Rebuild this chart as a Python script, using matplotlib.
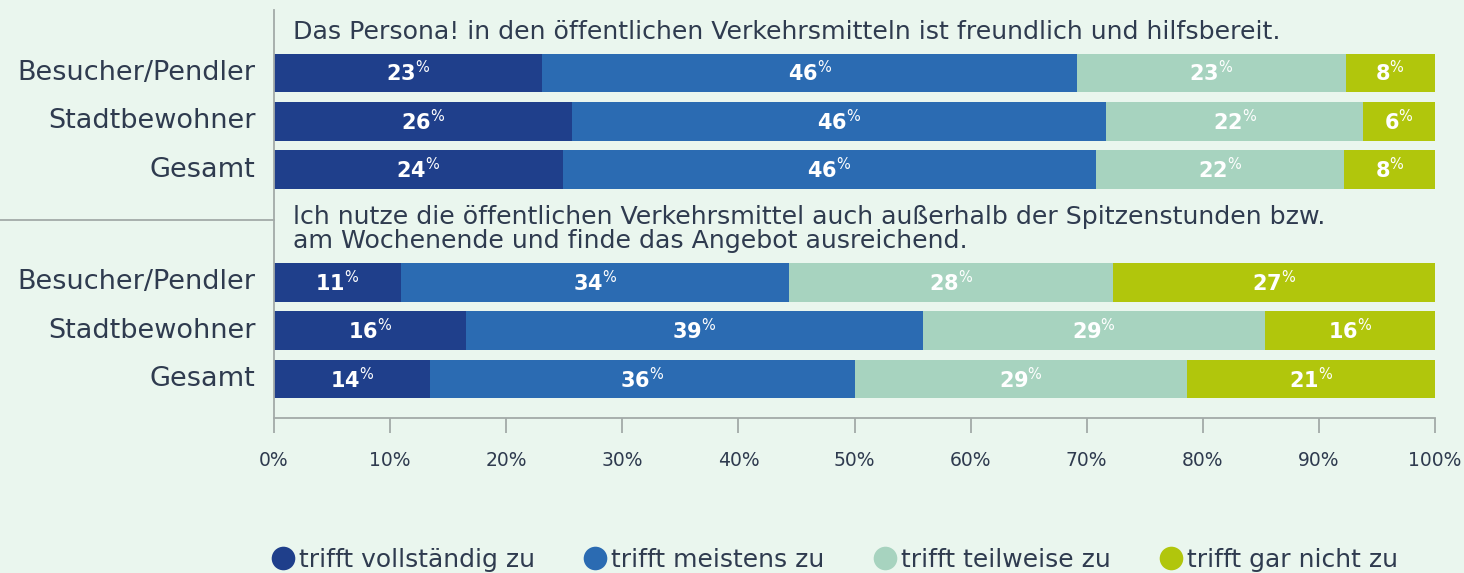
import matplotlib
matplotlib.use("Agg")
import matplotlib.pyplot as plt
from matplotlib.lines import Line2D
import numpy as np

# ---- data ----
categories = ["Besucher/Pendler", "Stadtbewohner", "Gesamt"]
series_names = ["trifft vollständig zu", "trifft meistens zu", "trifft teilweise zu", "trifft gar nicht zu"]
headings = [
    "Das Persona! in den öffentlichen Verkehrsmitteln ist freundlich und hilfsbereit.",
    "lch nutze die öffentlichen Verkehrsmittel auch außerhalb der Spitzenstunden bzw.\nam Wochenende und finde das Angebot ausreichend.",
]
# measured segment widths (percent) per question, rows = categories, cols = series
q1_values = [
    [23.1, 46.1, 23.1, 7.7],
    [25.7, 46.0, 22.1, 6.2],
    [24.9, 45.9, 21.4, 7.8],
]
q2_values = [
    [10.9, 33.5, 27.9, 27.7],
    [16.5, 39.4, 29.5, 14.6],
    [13.4, 36.6, 28.6, 21.4],
]
# printed labels
q1_labels = [
    [23, 46, 23, 8],
    [26, 46, 22, 6],
    [24, 46, 22, 8],
]
q2_labels = [
    [11, 34, 28, 27],
    [16, 39, 29, 16],
    [14, 36, 29, 21],
]
xticks = [0, 10, 20, 30, 40, 50, 60, 70, 80, 90, 100]
xticklabels = ["0%", "10%", "20%", "30%", "40%", "50%", "60%", "70%", "80%", "90%", "100%"]

# ---- style ----
BG = "#eaf6ee"
COLORS = ["#1f3f8b", "#2b6bb2", "#a7d3bf", "#b1c60c"]
TEXT = "#2f3b4f"
AXC = "#a3aaa8"

W, H = 1464, 573
fig = plt.figure(figsize=(W / 100, H / 100), dpi=100, facecolor=BG)
ax = fig.add_axes([274 / W, (H - 418) / H, (1435 - 274) / W, (418 - 10) / H], facecolor=BG)

group_offsets = [0.0, 4.33]
bar_h = 0.80
ypos_all, ylabels_all = [], []
for g, (vals, labs) in enumerate([(q1_values, q1_labels), (q2_values, q2_labels)]):
    vals = np.array(vals)
    ys = group_offsets[g] + np.arange(len(categories))
    left = np.zeros(len(categories))
    for s in range(vals.shape[1]):
        ax.barh(ys, vals[:, s], left=left, height=bar_h, color=COLORS[s],
                edgecolor="none", label=series_names[s] if g == 0 else None)
        for i in range(len(categories)):
            cx = left[i] + vals[i, s] / 2
            ax.text(cx, ys[i], f"{labs[i][s]}" + r"$^{\%}$", color="white",
                    ha="center", va="center", fontsize=15, fontweight="bold")
        left += vals[:, s]
    ypos_all += list(ys)
    ylabels_all += categories

ax.set_xlim(0, 100)
ax.set_ylim(6.33 + 0.804, -1.3)
ax.set_yticks(ypos_all)
ax.set_yticklabels(ylabels_all, fontsize=19.5, color=TEXT, va="center")
ax.tick_params(axis="y", length=0, pad=13.5)
ax.set_xticks(xticks)
ax.set_xticklabels(xticklabels, fontsize=13.5, color=TEXT)
ax.tick_params(axis="x", length=11, width=1.3, color=AXC, pad=13)

for sp in ["top", "right"]:
    ax.spines[sp].set_visible(False)
for sp in ["left", "bottom"]:
    ax.spines[sp].set_color(AXC)
    ax.spines[sp].set_linewidth(1.3)

# headings
ax.text(1.6, -0.85, headings[0], fontsize=18.2, color=TEXT, ha="left", va="center")
ax.text(1.6, group_offsets[1] - 1.11, headings[1], fontsize=18.2, color=TEXT,
        ha="left", va="center", linespacing=1.0)

# separator line to the left
trans = matplotlib.transforms.blended_transform_factory(ax.transAxes, ax.transData)
ax.add_line(Line2D([-274 / 1161, 0], [3.05, 3.05], transform=trans, color=AXC,
                   lw=1.3, clip_on=False))

# legend
handles = [Line2D([0], [0], marker="o", linestyle="none", markersize=17,
                  markerfacecolor=c, markeredgecolor="none") for c in COLORS]
leg = fig.legend(handles, series_names, loc="center", ncol=4,
                 bbox_to_anchor=(834 / W, 1 - 560 / H), frameon=False,
                 fontsize=18, handletextpad=0.15, columnspacing=1.9,
                 handlelength=1.0)
for t in leg.get_texts():
    t.set_color(TEXT)

fig.savefig("out.png", dpi=100, facecolor=BG)
